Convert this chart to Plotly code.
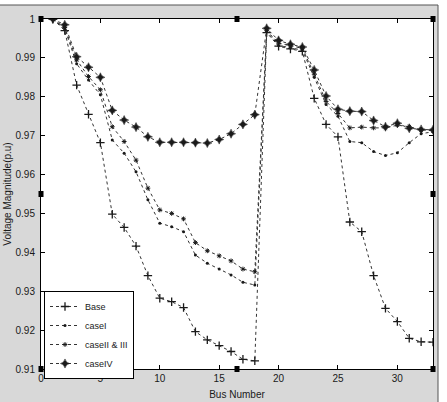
import plotly.graph_objects as go

bus = list(range(1, 34))

base = [1.0, 0.997, 0.983, 0.9755, 0.9682, 0.9498, 0.9464, 0.9416, 0.934, 0.9282,
        0.9273, 0.9258, 0.9196, 0.9175, 0.916, 0.9145, 0.9125, 0.9121,
        0.9965, 0.993, 0.9923, 0.9917, 0.9796, 0.9729, 0.9697, 0.9478, 0.9453,
        0.934, 0.9256, 0.9222, 0.9179, 0.917, 0.9169]

case1 = [1.0, 0.9975, 0.9885, 0.9843, 0.9805, 0.9689, 0.9655, 0.9607, 0.9535, 0.9475,
         0.9466, 0.9453, 0.9393, 0.9372, 0.9357, 0.9342, 0.9323, 0.9316,
         0.9968, 0.9932, 0.9926, 0.992, 0.985, 0.978, 0.975, 0.9685, 0.9682,
         0.9659, 0.9649, 0.9656, 0.9682, 0.9705, 0.971]

case23 = [1.0, 0.9978, 0.9895, 0.9852, 0.9818, 0.9723, 0.9685, 0.9637, 0.9565, 0.9509,
          0.95, 0.9486, 0.9425, 0.9404, 0.9391, 0.9378, 0.9357, 0.935,
          0.997, 0.9938, 0.9931, 0.9925, 0.9858, 0.9788, 0.9757, 0.972, 0.9722,
          0.972, 0.972, 0.9727, 0.9723, 0.9715, 0.9713]

case4 = [1.0, 0.9985, 0.9903, 0.9876, 0.985, 0.9765, 0.974, 0.9722, 0.9697, 0.9683,
         0.9683, 0.9683, 0.9682, 0.9681, 0.969, 0.9705, 0.9729, 0.9754,
         0.9976, 0.9945, 0.9935, 0.9928, 0.9869, 0.9802, 0.9768, 0.9763, 0.9762,
         0.9739, 0.9723, 0.9732, 0.9719, 0.9716, 0.9715]

names = ["Base", "caseI", "caseII & III", "caseIV"]
x_ticks = [0, 5, 10, 15, 20, 25, 30]
x_ticktext = ["0", "5", "10", "15", "20", "25", "30"]
y_ticks = [0.91, 0.92, 0.93, 0.94, 0.95, 0.96, 0.97, 0.98, 0.99, 1.0]
y_ticktext = ["0.91", "0.92", "0.93", "0.94", "0.95", "0.96", "0.97", "0.98", "0.99", "1"]

W, H = 447, 402
L, R, T, B = 41, 433, 19, 369
GRAY = "#d8d8d8"
INK = "#1a1a1a"
FONT = "Liberation Sans Narrow, Liberation Sans, Arial"

def fx(px):
    return (px - L) / (R - L)

def fy(py):
    return (B - py) / (B - T)

line_style = dict(color="#333333", width=1, dash="dot")

fig = go.Figure()
fig.add_trace(go.Scatter(x=bus, y=base, name=names[0], mode="lines+markers",
                         line=line_style,
                         marker=dict(symbol="cross-thin", size=6, color=INK,
                                     line=dict(color=INK, width=1.3))))
fig.add_trace(go.Scatter(x=bus, y=case1, name=names[1], mode="lines+markers",
                         line=line_style,
                         marker=dict(symbol="circle", size=3, color=INK)))
fig.add_trace(go.Scatter(x=bus, y=case23, name=names[2], mode="lines+markers",
                         line=line_style,
                         marker=dict(symbol="asterisk", size=4, color=INK,
                                     line=dict(color=INK, width=1))))
fig.add_trace(go.Scatter(x=bus, y=case4, name=names[3], mode="lines+markers",
                         line=line_style,
                         marker=dict(symbol="star-diamond", size=6.5, color=INK,
                                     line=dict(color=INK, width=0.5))))

shapes = []
shapes.append(dict(type="rect", xref="paper", yref="paper", x0=fx(-2), x1=fx(W + 2),
                   y0=fy(5), y1=fy(-2), fillcolor="white", line=dict(width=0), layer="above"))
shapes.append(dict(type="rect", xref="paper", yref="paper", x0=fx(438), x1=fx(W + 2),
                   y0=fy(H + 2), y1=fy(-2), fillcolor="white", line=dict(width=0), layer="above"))
shapes.append(dict(type="line", xref="paper", yref="paper", x0=fx(0), x1=fx(438),
                   y0=fy(5), y1=fy(5), line=dict(color="#555555", width=1)))
shapes.append(dict(type="line", xref="paper", yref="paper", x0=fx(438), x1=fx(438),
                   y0=fy(5), y1=fy(403), line=dict(color="#555555", width=1)))
mx, my = (L + R) / 2, (T + B) / 2
for hx, hy in [(L, T), (mx, T), (R, T), (L, my), (R, my), (L, B), (mx, B), (R, B)]:
    shapes.append(dict(type="rect", xref="paper", yref="paper",
                       x0=fx(hx - 2.5), x1=fx(hx + 2.5), y0=fy(hy + 3), y1=fy(hy - 3),
                       fillcolor="black", line=dict(width=0), layer="above"))

fig.update_layout(
    width=W, height=H,
    margin=dict(l=L, r=W - R, t=T, b=H - B, pad=0),
    paper_bgcolor=GRAY, plot_bgcolor="white",
    font=dict(family=FONT, size=10, color=INK),
    showlegend=True,
    legend=dict(x=fx(44), y=fy(291), xanchor="left", yanchor="top",
                bgcolor="white", bordercolor="black", borderwidth=1,
                font=dict(family=FONT, size=9, color=INK),
                tracegroupgap=0, itemwidth=30),
    shapes=shapes,
)
fig.update_xaxes(range=[0, 33], tickmode="array", tickvals=x_ticks, ticktext=x_ticktext,
                 ticks="inside", ticklen=4, tickfont=dict(family=FONT, size=10, color=INK),
                 tickcolor="black", showline=True, linecolor="black", linewidth=1,
                 mirror="ticks", showgrid=False, zeroline=False, automargin=False,
                 title=dict(text="Bus Number", standoff=7, font=dict(size=10)))
fig.update_yaxes(range=[0.91, 1.0], tickmode="array", tickvals=y_ticks, ticktext=y_ticktext,
                 ticks="inside", ticklen=4, tickfont=dict(family=FONT, size=10, color=INK),
                 tickcolor="black", showline=True, automargin=False,
                 linecolor="black", linewidth=1, mirror="ticks", showgrid=False,
                 zeroline=False, ticklabelstandoff=3,
                 title=dict(text="Voltage Magnitude(p.u)", standoff=2, font=dict(size=10)))

fig.write_html("out.html")
